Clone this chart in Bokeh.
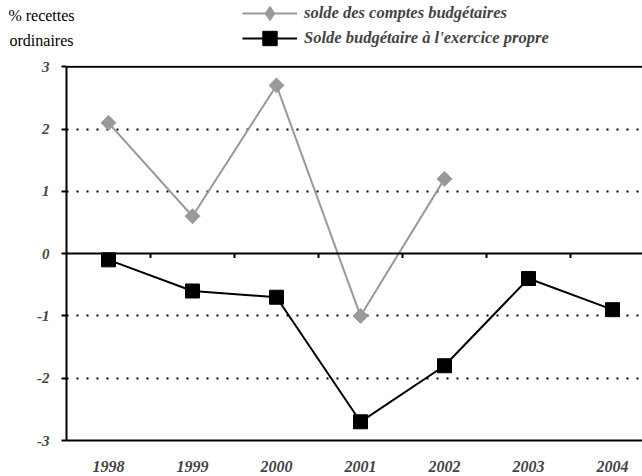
import math
from bokeh.plotting import figure
from bokeh.layouts import column
from bokeh.models import (FixedTicker, Span, Legend, LegendItem, Label, Range1d)
from bokeh.embed import file_html
from bokeh.resources import INLINE

years = [1998, 1999, 2000, 2001, 2002, 2003, 2004]
year_labels = ["1998", "1999", "2000", "2001", "2002", "2003", "2004"]
comptes_years = [1998, 1999, 2000, 2001, 2002]
comptes = [2.1, 0.6, 2.7, -1.0, 1.2]
propre = [-0.1, -0.6, -0.7, -2.7, -1.8, -0.4, -0.9]
y_ticks = [-3, -2, -1, 0, 1, 2, 3]
y_tick_labels = ["-3", "-2", "-1", "0", "1", "2", "3"]
grid_vals = [-2, -1, 1, 2]

series1_name = "solde des comptes budgétaires"
series2_name = "Solde budgétaire à l'exercice propre"
y_title = ["% recettes", "ordinaires"]

FONT = "Liberation Serif"
GRAY = "#999999"
W, H_TOP, H_MAIN = 642, 57, 419

# ---------- header strip (legend + unit label) ----------
top = figure(width=W, height=H_TOP, output_backend="svg", toolbar_location=None,
             x_range=Range1d(0, W), y_range=Range1d(H_TOP, 0),
             min_border=0, x_axis_location=None, y_axis_location=None)
top.frame_align = False
top.outline_line_color = None
top.grid.visible = False

# legend sample renderers (series data, lying outside this strip's visible range)
t1_line = top.line(comptes_years, comptes, line_color=GRAY, line_width=2)
t1_mark = top.scatter(comptes_years, comptes, marker="diamond", size=17,
                      fill_color=GRAY, line_color=GRAY)
t2_line = top.line(years, propre, line_color="black", line_width=2)
t2_mark = top.scatter(years, propre, marker="square", size=14, fill_color="black",
                      line_color="black")

def make_legend(label, renderers, bottom):
    lg = Legend(items=[LegendItem(label=label, renderers=renderers)],
                location=(242, bottom), glyph_width=55, glyph_height=36, label_height=20,
                label_standoff=7, padding=0, margin=0, spacing=0,
                border_line_color=None, background_fill_alpha=0,
                label_text_font=FONT, label_text_font_style="bold italic",
                label_text_font_size="16.5px")
    top.add_layout(lg, "center")

make_legend(series1_name, [t1_line, t1_mark], 26)
make_legend(series2_name, [t2_line, t2_mark], 1)

for txt, yy in zip(y_title, [15, 40]):
    top.add_layout(Label(x=41, y=yy, text=txt, text_align="center", text_baseline="middle",
                         text_font=FONT, text_font_size="16px", text_color="black"))

# ---------- main chart ----------
p = figure(width=W, height=H_MAIN, output_backend="svg", toolbar_location=None,
           x_range=Range1d(years[0] - 0.5, years[0] - 0.5 + 576 / 84),
           y_range=Range1d(y_ticks[0], y_ticks[-1] + 0.02),
           min_border_left=66, min_border_top=8, min_border_bottom=36, min_border_right=0)
p.frame_align = False
p.outline_line_color = None
p.xgrid.visible = False
p.ygrid.ticker = FixedTicker(ticks=grid_vals)
p.ygrid.grid_line_color = "black"
p.ygrid.grid_line_dash = "2 8"
p.ygrid.grid_line_width = 2

p.yaxis.ticker = FixedTicker(ticks=y_ticks)
p.yaxis.major_label_overrides = {t: l for t, l in zip(y_ticks, y_tick_labels)}
p.yaxis.bounds = (y_ticks[0], y_ticks[-1])
p.yaxis.axis_line_width = 2
p.yaxis.axis_line_color = "black"
p.yaxis.major_tick_out = 5
p.yaxis.major_tick_in = 0
p.yaxis.major_tick_line_width = 2
p.yaxis.minor_tick_line_color = None
p.yaxis.major_label_text_font = FONT
p.yaxis.major_label_text_font_style = "bold italic"
p.yaxis.major_label_text_font_size = "15px"
p.yaxis.major_label_standoff = 12

p.xaxis.ticker = FixedTicker(ticks=years)
p.xaxis.major_label_overrides = {y: l for y, l in zip(years, year_labels)}
p.xaxis.axis_line_width = 2
p.xaxis.axis_line_color = "black"
p.xaxis.major_tick_line_color = None
p.xaxis.minor_tick_line_color = None
p.xaxis.major_label_text_font = FONT
p.xaxis.major_label_text_font_style = "bold italic"
p.xaxis.major_label_text_font_size = "16px"
p.xaxis.major_label_standoff = 14

p.add_layout(Span(location=y_ticks[-1], dimension="width", line_color="black", line_width=2))
p.add_layout(Span(location=0, dimension="width", line_color="black", line_width=2))
bounds = [y + 0.5 for y in years]
p.segment(x0=bounds, y0=[0] * len(bounds), x1=bounds, y1=[-0.07] * len(bounds),
          line_color="black", line_width=2)

p.line(comptes_years, comptes, line_color=GRAY, line_width=2)
p.scatter(comptes_years, comptes, marker="square", size=10.5, angle=math.pi / 4,
          fill_color=GRAY, line_color=GRAY)
p.line(years, propre, line_color="black", line_width=2)
p.scatter(years, propre, marker="square", size=14, fill_color="black", line_color="black")

layout = column(top, p, spacing=0)
open("out.html", "w").write(file_html(layout, INLINE))
